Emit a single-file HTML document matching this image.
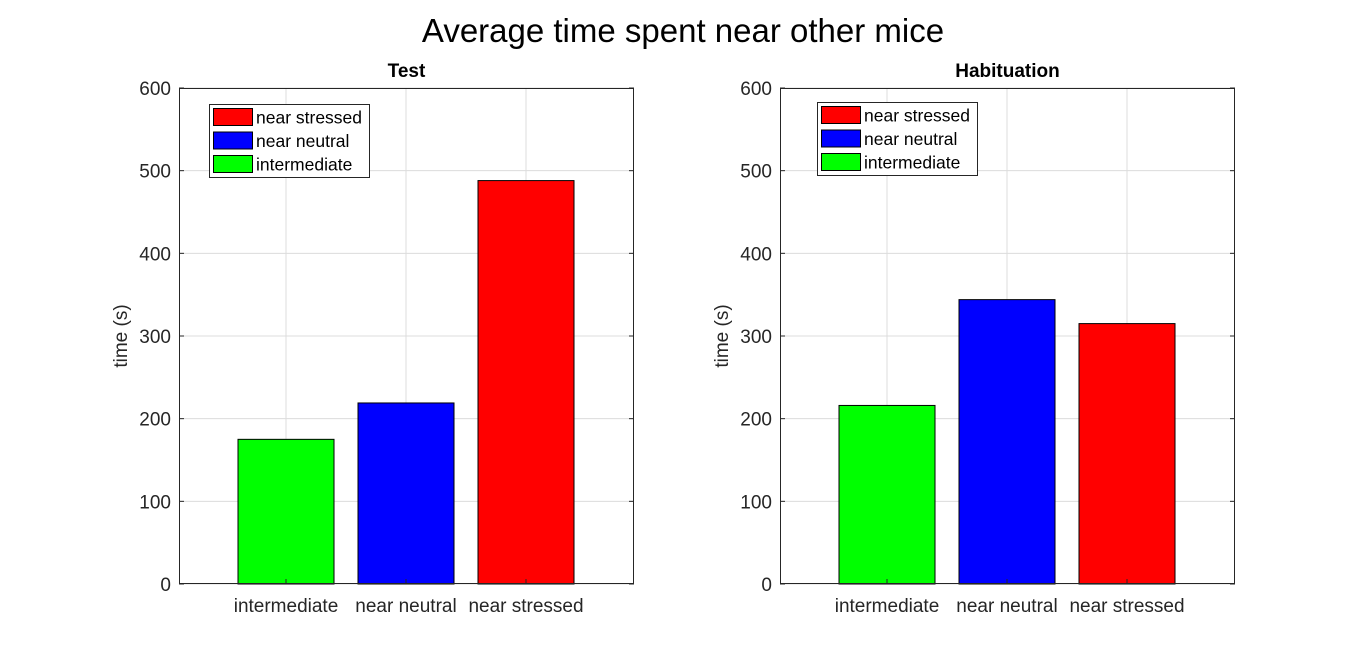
<!DOCTYPE html>
<html><head><meta charset="utf-8"><style>
body{margin:0;background:#fff;}
svg{display:block;font-family:"Liberation Sans",Arial,sans-serif;}
</style></head><body>
<svg id="fig" width="1366" height="651">
<text x="683" y="42" text-anchor="middle" font-size="33" fill="#000">Average time spent near other mice</text>
</svg>
<script>
const categories = ["intermediate","near neutral","near stressed"];
const testValues = [175, 219, 488];
const habValues = [216, 344, 315];
const barColors = ["#00ff00","#0000ff","#ff0000"];
const yTicks = [0,100,200,300,400,500,600];
const legendLabels = ["near stressed","near neutral","intermediate"];
const legendColors = ["#ff0000","#0000ff","#00ff00"];
const NS="http://www.w3.org/2000/svg";
const svg=document.getElementById('fig');
function mk(tag,attrs,parent){const e=document.createElementNS(NS,tag);for(const k in attrs)e.setAttribute(k,attrs[k]);(parent||svg).appendChild(e);return e;}
function panel(x0,title,values,legX,legY,key){
  const x1=x0+455, yTop=88, yBot=584;
  const g=mk('g',{});
  
  
  const xs=i=>x0+(i+1-0.1083)*120;
  const ys=v=>yBot-(v/600)*(yBot-yTop);
  mk('rect',{x:x0,y:yTop,width:455,height:yBot-yTop,fill:'#fff'},g);
  yTicks.forEach(t=>{
    const l=mk('line',{x1:x0,x2:x1,y1:ys(t),y2:ys(t),stroke:'#dcdcdc','stroke-width':1},g);
    
    
    mk('line',{x1:x0,x2:x0+5,y1:ys(t),y2:ys(t),stroke:'#262626'},g);
    mk('line',{x1:x1-5,x2:x1,y1:ys(t),y2:ys(t),stroke:'#262626'},g);
    const tx=mk('text',{x:x0-8,y:ys(t)+7,'text-anchor':'end','font-size':19,fill:'#262626'},g);
    tx.textContent=t;
    
    
  });
  categories.forEach((c,i)=>{
    const l=mk('line',{x1:xs(i),x2:xs(i),y1:yTop,y2:yBot,stroke:'#dcdcdc'},g);
    
    
  });
  values.forEach((v,i)=>{
    const b=mk('rect',{x:xs(i)-48,y:ys(v),width:96,height:yBot-ys(v),fill:barColors[i],stroke:'#000','stroke-width':1},g);
    
    
    mk('line',{x1:xs(i),x2:xs(i),y1:yBot,y2:yBot-5,stroke:'#262626'},g);
    const tx=mk('text',{x:xs(i),y:yBot+28,'text-anchor':'middle','font-size':19,fill:'#262626'},g);
    tx.textContent=categories[i];
    
    
  });
  mk('rect',{x:x0+0.5,y:yTop+0.5,width:454,height:yBot-yTop-1,fill:'none',stroke:'#262626'},g);
  const tt=mk('text',{x:(x0+x1)/2,y:77,'text-anchor':'middle','font-size':19,'font-weight':'bold',fill:'#000'},g);
  tt.textContent=title;
  
  
  const yl=mk('text',{x:0,y:0,'text-anchor':'middle','font-size':19,fill:'#262626',transform:`translate(${x0-52},${(yTop+yBot)/2}) rotate(-90)`},g);
  yl.textContent='time (s)';
  
  
  const lg=mk('g',{},g);
  
  
  mk('rect',{x:legX+0.5,y:legY+0.5,width:160,height:73,fill:'#fff',stroke:'#262626'},lg);
  legendLabels.forEach((s,i)=>{
    const e=mk('g',{},lg);
    
    
    mk('rect',{x:legX+4.5,y:legY+4.5+i*23.5,width:39,height:17,fill:legendColors[i],stroke:'#000'},e);
    const t=mk('text',{x:legX+47,y:legY+19.5+i*23.5,'font-size':17.5,fill:'#000'},e);
    t.textContent=s;
  });
}
panel(179,'Test',testValues,209,104,'test');
panel(780,'Habituation',habValues,817,102,'habituation');
</script>
</body></html>
